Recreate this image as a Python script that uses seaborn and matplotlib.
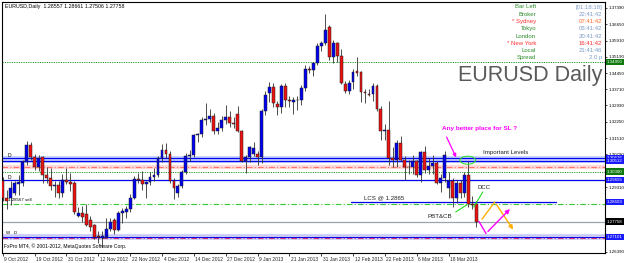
import matplotlib
matplotlib.use("Agg")
import matplotlib.pyplot as plt
import matplotlib.transforms as mtransforms
from matplotlib.patches import Ellipse
import numpy as np
import seaborn as sns

# ---------------- data ----------------
opens = [1.2960, 1.2880, 1.2880, 1.2905, 1.2945, 1.2950, 1.3045, 1.3120, 1.3065, 1.3020,
         1.3065, 1.2985, 1.2970, 1.2935, 1.2940, 1.2905, 1.2965, 1.2955, 1.2950, 1.2800,
         1.2815, 1.2810, 1.2783, 1.2760, 1.2712, 1.2700, 1.2705, 1.2740, 1.2783, 1.2738,
         1.2815, 1.2820, 1.2830, 1.2882, 1.2967, 1.2962, 1.2945, 1.2955, 1.2975, 1.2985,
         1.3060, 1.3100, 1.3080, 1.2960, 1.2905, 1.2935, 1.3000, 1.3070, 1.3075, 1.3165,
         1.3168, 1.3232, 1.3236, 1.3250, 1.3185, 1.3195, 1.3235, 1.3245, 1.3222, 1.3262,
         1.3185, 1.3050, 1.3065, 1.3078, 1.3080, 1.3068, 1.3275, 1.3355, 1.3382, 1.3306,
         1.3290, 1.3385, 1.3325, 1.3315, 1.3322, 1.3324, 1.3378, 1.3465, 1.3458, 1.3490,
         1.3567, 1.3580, 1.3653, 1.3517, 1.3580, 1.3522, 1.3396, 1.3362, 1.3405, 1.3452,
         1.3448, 1.3360, 1.3352, 1.3350, 1.3387, 1.3283, 1.3184, 1.3190, 1.3060, 1.3055,
         1.3130, 1.3055, 1.3020, 1.3022, 1.3050, 1.2985, 1.3090, 1.3010, 1.3025, 1.3040,
         1.2950, 1.2970, 1.2925, 1.2960, 1.2880, 1.2950, 1.2905, 1.2985, 1.2855, 1.28557]
highs = [1.2975, 1.2920, 1.2960, 1.2960, 1.2985, 1.3055, 1.3140, 1.3135, 1.3080, 1.3075,
         1.3070, 1.3020, 1.3015, 1.2960, 1.2960, 1.2990, 1.3015, 1.2995, 1.2960, 1.2840,
         1.2845, 1.2855, 1.2800, 1.2765, 1.2735, 1.2735, 1.2790, 1.2790, 1.2790, 1.2825,
         1.2835, 1.2845, 1.2900, 1.2980, 1.2995, 1.3005, 1.2960, 1.3000, 1.3015, 1.3070,
         1.3125, 1.3130, 1.3095, 1.2970, 1.2945, 1.3010, 1.3085, 1.3100, 1.3170, 1.3175,
         1.3245, 1.3310, 1.3285, 1.3265, 1.3225, 1.3250, 1.3300, 1.3275, 1.3245, 1.3295,
         1.3190, 1.3075, 1.3115, 1.3135, 1.3095, 1.3285, 1.3365, 1.3405, 1.3400, 1.3320,
         1.3395, 1.3400, 1.3340, 1.3335, 1.3340, 1.3390, 1.3480, 1.3475, 1.3495, 1.3580,
         1.3590, 1.3711, 1.3660, 1.3595, 1.3585, 1.3555, 1.3410, 1.3415, 1.3465, 1.3518,
         1.3455, 1.3375, 1.3375, 1.3400, 1.3395, 1.3295, 1.3215, 1.3320, 1.3110, 1.3145,
         1.3160, 1.3070, 1.3055, 1.3075, 1.3055, 1.3095, 1.3115, 1.3060, 1.3075, 1.3050,
         1.2990, 1.3095, 1.3000, 1.2970, 1.2965, 1.2965, 1.3000, 1.3050, 1.2890, 1.28661]
lows = [1.2870, 1.2830, 1.2850, 1.2895, 1.2895, 1.2935, 1.3030, 1.3055, 1.3010, 1.3005,
        1.2950, 1.2950, 1.2920, 1.2885, 1.2880, 1.2885, 1.2945, 1.2915, 1.2810, 1.2795,
        1.2775, 1.2755, 1.2735, 1.2695, 1.2680, 1.2661, 1.2700, 1.2735, 1.2720, 1.2735,
        1.2770, 1.2790, 1.2820, 1.2875, 1.2950, 1.2920, 1.2880, 1.2940, 1.2960, 1.2975,
        1.3045, 1.3060, 1.2950, 1.2877, 1.2885, 1.2925, 1.2990, 1.3050, 1.3065, 1.3135,
        1.3155, 1.3210, 1.3225, 1.3170, 1.3170, 1.3185, 1.3215, 1.3200, 1.3195, 1.3180,
        1.3045, 1.2995, 1.3045, 1.3070, 1.3030, 1.3040, 1.3255, 1.3315, 1.3290, 1.3255,
        1.3265, 1.3290, 1.3290, 1.3260, 1.3280, 1.3300, 1.3365, 1.3445, 1.3430, 1.3480,
        1.3545, 1.3570, 1.3505, 1.3490, 1.3495, 1.3395, 1.3355, 1.3350, 1.3375, 1.3430,
        1.3315, 1.3310, 1.3340, 1.3320, 1.3275, 1.3145, 1.3145, 1.3030, 1.3020, 1.3020,
        1.3050, 1.2965, 1.2990, 1.2990, 1.2975, 1.2955, 1.2995, 1.2990, 1.2990, 1.2945,
        1.2910, 1.2955, 1.2880, 1.2840, 1.2860, 1.2880, 1.2885, 1.2840, 1.2830, 1.27506]
closes = [1.2880, 1.2870, 1.2927, 1.2950, 1.2952, 1.3045, 1.3120, 1.3067, 1.3020, 1.3060,
          1.2985, 1.2970, 1.2935, 1.2940, 1.2905, 1.2963, 1.2955, 1.2945, 1.2820, 1.2812,
          1.2795, 1.2762, 1.2752, 1.2707, 1.2705, 1.2710, 1.2740, 1.2775, 1.2738, 1.2815,
          1.2825, 1.2830, 1.2882, 1.2967, 1.2962, 1.2945, 1.2955, 1.2975, 1.2985, 1.3060,
          1.3100, 1.3080, 1.2960, 1.2925, 1.2935, 1.3000, 1.3070, 1.3075, 1.3165, 1.3168,
          1.3232, 1.3236, 1.3250, 1.3185, 1.3195, 1.3235, 1.3245, 1.3220, 1.3215, 1.3185,
          1.3050, 1.3065, 1.3110, 1.3105, 1.3068, 1.3275, 1.3345, 1.3382, 1.3310, 1.3292,
          1.3385, 1.3325, 1.3318, 1.3322, 1.3324, 1.3378, 1.3462, 1.3458, 1.3490, 1.3567,
          1.3580, 1.3640, 1.3517, 1.3580, 1.3520, 1.3400, 1.3362, 1.3398, 1.3450, 1.3444,
          1.3360, 1.3354, 1.3348, 1.3387, 1.3283, 1.3184, 1.3190, 1.3060, 1.3055, 1.3130,
          1.3055, 1.3020, 1.3022, 1.3050, 1.2985, 1.3090, 1.3010, 1.3025, 1.3040, 1.2950,
          1.2970, 1.3075, 1.2960, 1.2880, 1.2950, 1.2905, 1.2985, 1.2855, 1.2850, 1.27758]

date_labels = ["9 Oct 2012", "19 Oct 2012", "31 Oct 2012", "12 Nov 2012", "22 Nov 2012",
               "4 Dec 2012", "14 Dec 2012", "27 Dec 2012", "9 Jan 2013", "21 Jan 2013",
               "31 Jan 2013", "12 Feb 2013", "22 Feb 2013", "6 Mar 2013", "18 Mar 2013"]
date_label_bars = [0, 8, 16, 24, 32, 40, 48, 56, 64, 72, 80, 88, 96, 104, 112]

price_ticks = [1.26390, 1.27110, 1.27850, 1.28590, 1.29310, 1.30050, 1.30790, 1.31510,
               1.32250, 1.32990, 1.33710, 1.34450, 1.35190, 1.35910, 1.36650, 1.37390]

# horizontal levels
level_green_dot = [1.34947, 1.30011]
level_blue = [1.30634, 1.30485, 1.29629]
level_pink = 1.30237
level_sell = 1.28567
level_lcs = 1.2865
level_bid = 1.27758
level_bottom_blue = 1.27074
level_bottom_magenta = 1.27030

info_labels = ["Bar Left", "Broker", "* Sydney", "Tokyo", "London", "* New York", "Local", "Spread"]
info_values = ["[01:18:18]", "22:41:42", "07:41:42", "05:41:42", "20:41:42", "16:41:42", "21:41:46", "2.0 p"]

# ---------------- style ----------------
sns.set_style("white")
plt.rcParams['font.family'] = ['Liberation Sans', 'DejaVu Sans']

W, H = 625, 263
fig = plt.figure(figsize=(W / 100, H / 100), dpi=100)
ax = fig.add_axes([2 / W, 1 - 252.5 / H, 603 / W, 250.5 / H])
ax.set_xlim(-0.2, 151.3)
ax.set_ylim(1.26361, 1.37651)

for s in ax.spines.values():
    s.set_color("#000000")
    s.set_linewidth(0.8)

BLUE = "#0000ee"
RED = "#ee1111"

# ---------------- levels ----------------
ax.axhline(level_green_dot[0], color="#1a9a1a", lw=0.7, ls=(0, (1.2, 1.2)), zorder=1)
ax.axhline((level_blue[0] + level_blue[1]) / 2, color="#c8d4ff", lw=5, zorder=0.5)
ax.axhline(level_pink, color="#ffd8d8", lw=3, zorder=0.5)
ax.axhline(level_bottom_blue, color="#c8c8f4", lw=4, zorder=0.5)
for lv in level_blue:
    ax.axhline(lv, color="#0000ee", lw=0.9, zorder=1)
ax.axhline(level_pink, color="#ff7070", lw=0.8, ls=(0, (5, 2, 1, 2)), zorder=1)
ax.axhline(level_green_dot[1], color="#1a9a1a", lw=0.7, ls=(0, (1.2, 1.2)), zorder=1)
ax.axhline(level_sell, color="#33cc33", lw=0.8, ls=(0, (5, 2, 1, 2)), zorder=1)
ax.plot([87.4, 138.9], [level_lcs, level_lcs], color="#0000ee", lw=0.9, zorder=1.2)
ax.axhline(level_bid, color="#9aa4ae", lw=0.9, zorder=1)
ax.axhline(level_bottom_blue, color="#0000ee", lw=0.7, zorder=1)
ax.axhline(level_bottom_magenta, color="#cc3377", lw=0.8, ls=(0, (5, 2, 1, 2)), zorder=1.1)

# ---------------- candles ----------------
o = np.array(opens); h = np.array(highs); l = np.array(lows); c = np.array(closes)
x = np.arange(len(o))
ax.vlines(x, l, h, color="#303030", lw=0.6, zorder=2)
up = c >= o
body_lo = np.minimum(o, c)
body_h = np.maximum(np.abs(c - o), 0.00018)
ax.bar(x[up], body_h[up], bottom=body_lo[up], width=0.72, color=BLUE,
       edgecolor="#202020", linewidth=0.35, zorder=3)
ax.bar(x[~up], body_h[~up], bottom=body_lo[~up], width=0.72, color=RED,
       edgecolor="#202020", linewidth=0.35, zorder=3)

# ---------------- axes ticks ----------------
ax.yaxis.tick_right()
ax.set_yticks(price_ticks)
ax.set_yticklabels([f"{v:.5f}" for v in price_ticks], fontsize=3.2, color="#000000")
ax.tick_params(axis="y", direction="out", length=1.5, width=0.6, pad=1.2, right=True, left=False)
ax.set_xticks(date_label_bars)
ax.set_xticklabels(date_labels, fontsize=3.5, ha="left")
ax.tick_params(axis="x", direction="out", length=2, width=0.6, pad=1.5, bottom=True)
offset = mtransforms.ScaledTranslation(1.5 / 100, 0, fig.dpi_scale_trans)
for t in ax.get_xticklabels():
    t.set_horizontalalignment("left")
    t.set_transform(t.get_transform() + offset)

# right side price boxes
tr = mtransforms.blended_transform_factory(ax.transAxes, ax.transData)
boxes = [(level_green_dot[0], "1.34950", "#0e7a0e"),
         (level_blue[0], "1.30626", "#1a1aff"),
         (level_blue[1], "1.30512", "#1a1aff"),
         (level_green_dot[1], "1.30000", "#0e7a0e"),
         (level_blue[2], "1.29655", "#1a1aff"),
         (level_lcs, "1.28603", "#1a1aff"),
         (level_bid, "1.27758", "#000000"),
         (level_bottom_blue, "1.27101", "#1a1aff")]
for y, txt, col in boxes:
    ax.text(1.003, y, txt, transform=tr, fontsize=3.2, color="white", va="center", ha="left",
            bbox=dict(boxstyle="square,pad=0.25", fc=col, ec="none"), zorder=10, clip_on=False)

# ---------------- texts ----------------
fig.text(5 / W, 1 - 6.5 / H, "EURUSD,Daily  1.28557 1.28661 1.27506 1.27758", fontsize=3.8,
         color="#000000", va="center", ha="left")
fig.text(602 / W, 1 - 75 / H, "EURUSD Daily", fontsize=15.5, color="#5a5a5a",
         va="center", ha="right")

row_y = [7, 14.5, 21.8, 29, 36.3, 43.5, 50.8, 58]
lab_col = ["#2a8a2a", "#2a8a2a", "#ff3030", "#2a8a2a", "#2a8a2a", "#ff3030", "#2a8a2a", "#2a8a2a"]
val_col = ["#7f9cc8", "#7f9cc8", "#ff6a2a", "#7f9cc8", "#7f9cc8", "#ff3030", "#7f9cc8", "#7f9cc8"]
for yy, lb, vl, lc, vc in zip(row_y, info_labels, info_values, lab_col, val_col):
    fig.text(536 / W, 1 - yy / H, lb, fontsize=4.3, color=lc, va="center", ha="right")
    fig.text(602 / W, 1 - yy / H, vl, fontsize=4.3, color=vc, va="center", ha="right")

fig.text(4 / W, 1 - 246 / H, "FxPro MT4, \u00a9 2001-2012, MetaQuotes Software Corp.",
         fontsize=3.6, color="#000000", va="center", ha="left")

# small level tags at left
ax.text(1.3, 1.3075, "D", fontsize=3.6, color="#000000", va="center")
ax.text(1.3, 1.2975, "D", fontsize=3.6, color="#000000", va="center")
ax.text(1.3, 1.2872, "1.28567 sell", fontsize=3.2, color="#000000", va="center")
ax.text(0.8, 1.2726, "W   D", fontsize=3.2, color="#000000", va="center")

# annotations
ax.text(110.3, 1.3193, "Any better place for SL ?", fontsize=4.6, color="#ff00ff",
        fontweight="bold", va="center", ha="left")
ax.annotate("", xy=(114.2, 1.3053), xytext=(111.2, 1.3168),
            arrowprops=dict(arrowstyle="-|>", color="#ff00ff", lw=0.9, mutation_scale=5))
ax.add_patch(Ellipse((116.8, 1.3052), 3.9, 0.0036, fill=False, ec="#33dd33", lw=0.8, zorder=6))
ax.text(120.6, 1.3085, "Important Levels", fontsize=4.4, color="#202020", va="center", ha="left")
ax.text(119.3, 1.2931, "DCC", fontsize=4.4, color="#202020", va="center", ha="left")
ax.plot([120.6, 118.3], [1.2909, 1.2841], color="#22dd22", lw=0.8, zorder=6)
ax.text(90.7, 1.2882, "LCS @ 1.2865", fontsize=4.4, color="#202020", va="center", ha="left")
ax.text(106.8, 1.2797, "PBT&CB", fontsize=4.4, color="#202020", va="center", ha="left")
ax.plot([113.8, 116.6], [1.2819, 1.2851], color="#22dd22", lw=0.8, zorder=6)

# orange zigzag
ax.plot([120.4, 123.6], [1.2786, 1.2864], color="#ffb000", lw=1.0, zorder=6)
ax.annotate("", xy=(128.6, 1.2729), xytext=(123.6, 1.2864),
            arrowprops=dict(arrowstyle="-|>", color="#ffb000", lw=1.0, mutation_scale=6))
# magenta zigzag
ax.plot([119.6, 121.4], [1.2777, 1.2722], color="#ff00ff", lw=1.0, zorder=6)
ax.annotate("", xy=(127.9, 1.2841), xytext=(121.4, 1.2722),
            arrowprops=dict(arrowstyle="-|>", color="#ff00ff", lw=1.0, mutation_scale=6))

fig.savefig("out.png", dpi=100, facecolor="white")
